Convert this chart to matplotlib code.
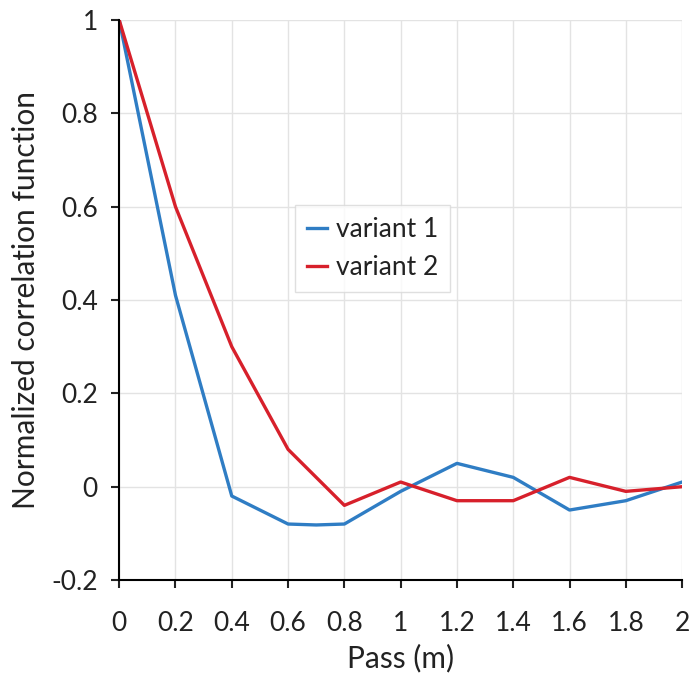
import matplotlib
matplotlib.use("Agg")
import matplotlib.pyplot as plt

x = [0, 0.2, 0.4, 0.6, 0.7, 0.8, 1.0, 1.2, 1.4, 1.6, 1.8, 2.0]
variant1 = [1.0, 0.41, -0.02, -0.08, -0.082, -0.08, -0.01, 0.05, 0.02, -0.05, -0.03, 0.01]
x2 = [0, 0.2, 0.4, 0.6, 0.8, 1.0, 1.2, 1.4, 1.6, 1.8, 2.0]
variant2 = [1.0, 0.6, 0.3, 0.08, -0.04, 0.01, -0.03, -0.03, 0.02, -0.01, 0.0]
xticks = [0, 0.2, 0.4, 0.6, 0.8, 1, 1.2, 1.4, 1.6, 1.8, 2]
xticklabels = ["0", "0.2", "0.4", "0.6", "0.8", "1", "1.2", "1.4", "1.6", "1.8", "2"]
yticks = [-0.2, 0, 0.2, 0.4, 0.6, 0.8, 1]
yticklabels = ["-0.2", "0", "0.2", "0.4", "0.6", "0.8", "1"]

plt.rcParams['font.family'] = ['Lato', 'DejaVu Sans']
FS = 19
FL = 21.5

fig = plt.figure(figsize=(6.89, 6.75), dpi=100)
ax = fig.add_axes([0.173, 0.1407, 0.817, 0.8296])
ax.plot(x, variant1, color='#2f7dc4', lw=2.4, label='variant 1')
ax.plot(x2, variant2, color='#d7202b', lw=2.4, label='variant 2')
ax.set_xlim(0, 2)
ax.set_ylim(-0.2, 1)
ax.set_xticks(xticks)
ax.set_xticklabels(xticklabels)
ax.set_yticks(yticks)
ax.set_yticklabels(yticklabels)
ax.grid(True, color='#e3e3e3', lw=1)
ax.set_axisbelow(True)
for s in ['top', 'right']:
    ax.spines[s].set_visible(False)
for s in ['left', 'bottom']:
    ax.spines[s].set_linewidth(1.5)
    ax.spines[s].set_color('black')
ax.tick_params(axis='both', labelsize=FS, width=1.5, length=6, direction='out', colors='#222222')
ax.tick_params(axis='x', pad=16)
ax.tick_params(axis='y', pad=9.5)
ax.set_xlabel('Pass (m)', fontsize=FL, labelpad=6, color='#222222')
ax.set_ylabel('Normalized correlation function', fontsize=FL, labelpad=8, color='#222222')
leg = ax.legend(loc='upper left', bbox_to_anchor=(0.3126, 0.6696), fontsize=FS, frameon=True,
                fancybox=False, edgecolor='#d8d8d8', handlelength=0.75, handletextpad=0.35,
                borderpad=0.45, labelspacing=0.5, borderaxespad=0)
leg.get_frame().set_linewidth(1)
for t in leg.get_texts():
    t.set_color('#222222')
fig.savefig('out.png', dpi=100)
